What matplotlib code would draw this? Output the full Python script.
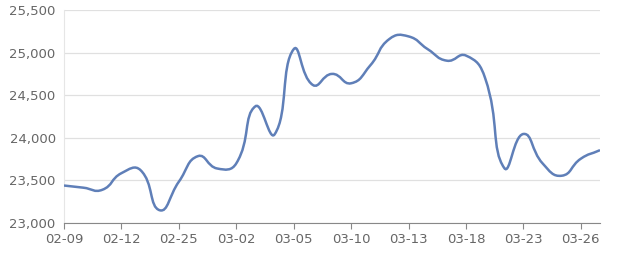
import matplotlib
matplotlib.use("Agg")
import matplotlib.pyplot as plt
import numpy as np
from matplotlib.path import Path
from matplotlib.patches import PathPatch

# daily price, 29 trading days
values = [23440, 23415, 23390, 23585, 23620, 23150, 23485, 23785, 23640, 23700,
          24370, 24040, 25040, 24620, 24750, 24640, 24850, 25160, 25190, 25040,
          24905, 24965, 24700, 23645, 24045, 23700, 23555, 23755, 23855]
tick_labels = ["02-09", "02-12", "02-25", "03-02", "03-05",
               "03-10", "03-13", "03-18", "03-23", "03-26"]
tick_step = 3

fig = plt.figure(figsize=(6.4, 2.7), dpi=100)
ax = fig.add_axes([0.1, 0.174, 0.8375, 0.789])

x = np.arange(len(values), dtype=float)
y = np.array(values, dtype=float)

# echarts-like smooth curve: bezier control points, weighted by segment length
sx, sy = 19.14, 1 / 11.74  # rough pixel scale for weighting
smooth = 0.5
verts = [(x[0], y[0])]
codes = [Path.MOVETO]
cps = []
for i in range(len(x)):
    p0 = np.array([x[max(i - 1, 0)], y[max(i - 1, 0)]])
    p1 = np.array([x[i], y[i]])
    p2 = np.array([x[min(i + 1, len(x) - 1)], y[min(i + 1, len(x) - 1)]])
    v = (p2 - p0) * smooth
    d0 = np.hypot((p1[0] - p0[0]) * sx, (p1[1] - p0[1]) * sy)
    d1 = np.hypot((p2[0] - p1[0]) * sx, (p2[1] - p1[1]) * sy)
    r = d0 / (d0 + d1) if d0 + d1 > 0 else 0.5
    cps.append((p1 - v * r, p1 + v * (1 - r)))
for i in range(len(x) - 1):
    verts += [tuple(cps[i][1]), tuple(cps[i + 1][0]), (x[i + 1], y[i + 1])]
    codes += [Path.CURVE4] * 3
ax.add_patch(PathPatch(Path(verts, codes), facecolor="none",
                       edgecolor="#5f7fb8", lw=1.8, zorder=3))

ax.set_xlim(0, len(values) - 1)
ax.set_ylim(23000, 25500)
ax.set_yticks(np.arange(23000, 25501, 500))
ax.set_yticklabels([f"{v:,}" for v in range(23000, 25501, 500)])
ax.set_xticks(np.arange(0, len(values), tick_step))
ax.set_xticklabels(tick_labels)

ax.grid(axis="y", color="#e0e0e0", lw=0.9)
ax.set_axisbelow(True)
for s in ["top", "right"]:
    ax.spines[s].set_visible(False)
ax.spines["left"].set_color("#e6e6e6")
ax.spines["bottom"].set_color("#888888")
ax.tick_params(axis="y", length=0, pad=6, labelsize=9.5, labelcolor="#666666")
ax.tick_params(axis="x", length=4, color="#888888", pad=3,
               labelsize=9.5, labelcolor="#666666")

fig.savefig("out.png", dpi=100)
